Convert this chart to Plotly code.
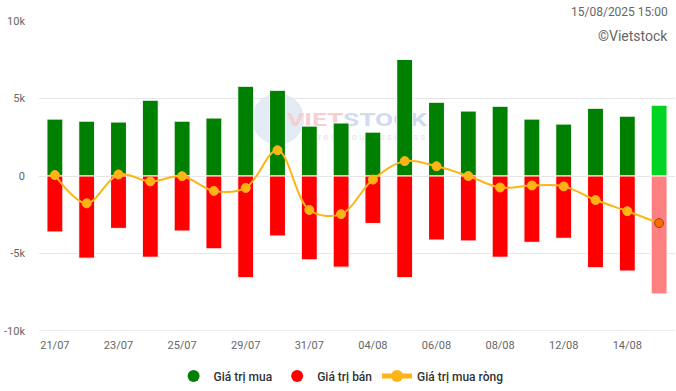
import base64
import plotly.graph_objects as go

dates = ["21/07", "22/07", "23/07", "24/07", "25/07", "28/07", "29/07", "30/07", "31/07", "01/08",
         "04/08", "05/08", "06/08", "07/08", "08/08", "11/08", "12/08", "13/08", "14/08", "15/08"]
buy = [3670, 3540, 3480, 4890, 3540, 3740, 5790, 5530, 3220, 3420,
       2830, 7520, 4760, 4190, 4500, 3670, 3350, 4370, 3860, 4570]
sell = [3610, 5300, 3380, 5240, 3550, 4700, 6560, 3870, 5410, 5880,
        3060, 6560, 4130, 4190, 5240, 4280, 4020, 5920, 6130, 7610]
net = [60, -1760, 100, -350, -10, -960, -770, 1660, -2190, -2460,
       -230, 960, 630, 0, -740, -610, -670, -1550, -2270, -3040]
tick_dates = dates[::2]
y_ticks = [-10000, -5000, 0, 5000, 10000]
y_tick_text = ["-10k", "-5k", "0", "5k", "10k"]

n = len(dates)
buy_colors = ["#008000"] * (n - 1) + ["#00D422"]
sell_colors = ["#FF0000"] * (n - 1) + ["#FF8080"]
net_colors = ["#FFB416"] * (n - 1) + ["#FF6A00"]
net_line_colors = ["#FFB416"] * (n - 1) + ["#8A4A1A"]

FONT = "Roboto, Arial, sans-serif"

# faint watermark logo (decoration)
svg = """<svg xmlns='http://www.w3.org/2000/svg' width='180' height='60' viewBox='0 0 180 60'>
<circle cx='26' cy='27' r='26' fill='#e3ebf5'/>
<text x='35' y='34' font-family='Roboto, Arial' font-weight='bold' font-size='18'
 textLength='140' lengthAdjust='spacingAndGlyphs'><tspan fill='#f6cfd2'>VIET</tspan><tspan fill='#cfdcef'>STOCK</tspan></text>
<text x='48' y='48' font-family='Roboto, Arial' font-size='9' fill='#e2e2e2'
 textLength='125' lengthAdjust='spacing'>refreshyourbusiness</text>
</svg>"""
svg_uri = "data:image/svg+xml;base64," + base64.b64encode(svg.encode()).decode()

fig = go.Figure()
fig.add_trace(go.Bar(x=dates, y=buy, name="Giá trị mua", showlegend=False,
                     marker=dict(color=buy_colors, line=dict(color="white", width=1))))
fig.add_trace(go.Bar(x=dates, y=[-v for v in sell], name="Giá trị bán", showlegend=False,
                     marker=dict(color=sell_colors, line=dict(color="white", width=1))))
fig.add_trace(go.Scatter(x=dates, y=net, name="Giá trị mua ròng", mode="lines+markers",
                         showlegend=False,
                         line=dict(color="#FFB416", width=2, shape="spline", smoothing=1),
                         marker=dict(size=9, color=net_colors,
                                     line=dict(color=net_line_colors, width=1))))
# legend entries
fig.add_trace(go.Scatter(x=[None], y=[None], mode="markers", name="Giá trị mua",
                         marker=dict(symbol="circle", size=13, color="#008000")))
fig.add_trace(go.Scatter(x=[None], y=[None], mode="markers", name="Giá trị bán",
                         marker=dict(symbol="circle", size=13, color="#FF0000")))
fig.add_trace(go.Scatter(x=[None], y=[None], mode="lines+markers", name="Giá trị mua ròng",
                         line=dict(color="#FFB416", width=2),
                         marker=dict(size=7, color="#FFB416")))

fig.update_layout(
    width=676, height=391,
    margin=dict(l=39, r=1, t=21, b=57),
    paper_bgcolor="white", plot_bgcolor="white",
    barmode="relative", bargap=0.5,
    font=dict(family=FONT, size=11, color="#666666"),
    showlegend=True,
    legend=dict(orientation="h", x=0.475, xanchor="center", y=-0.145, yanchor="middle",
                font=dict(family=FONT, size=12, color="#333333", weight=500),
                itemsizing="constant", traceorder="normal", itemwidth=30,
                bgcolor="rgba(0,0,0,0)"),
    xaxis=dict(type="category", tickmode="array", tickvals=tick_dates, ticktext=tick_dates,
               showgrid=False, showline=False, zeroline=False, ticks="",
               ticklabelstandoff=6,
               tickfont=dict(size=11, color="#666666"), range=[-0.5, n - 0.5],
               fixedrange=True),
    yaxis=dict(range=[-10000, 10000], tickvals=y_ticks, ticktext=y_tick_text,
               showgrid=True, gridcolor="#e6e6e6", gridwidth=1, zeroline=False,
               showline=False, ticks="", ticklabelstandoff=13,
               tickfont=dict(size=11, color="#666666")),
    shapes=[dict(type="line", xref="paper", yref="y", x0=0, x1=1, y0=-10000, y1=-10000,
                 line=dict(color="#ccd6eb", width=1), layer="above")],
    images=[dict(source=svg_uri, xref="paper", yref="paper", x=0.335, y=0.77,
                 sizex=0.283, sizey=0.192, xanchor="left", yanchor="top",
                 sizing="stretch", layer="below", opacity=1)],
    annotations=[
        dict(text="15/08/2025 15:00", xref="paper", yref="paper", x=1, y=1,
             xanchor="right", yanchor="middle", yshift=9, xshift=-5, showarrow=False,
             font=dict(family=FONT, size=12, color="#666666")),
        dict(text="©Vietstock", xref="paper", yref="paper", x=1, y=1,
             xanchor="right", yanchor="middle", yshift=-15, xshift=-5, showarrow=False,
             font=dict(family=FONT, size=14, color="#666666")),
    ],
)

fig.write_html("out.html", post_script="document.body.style.margin='0';",
               config={"displayModeBar": False})
